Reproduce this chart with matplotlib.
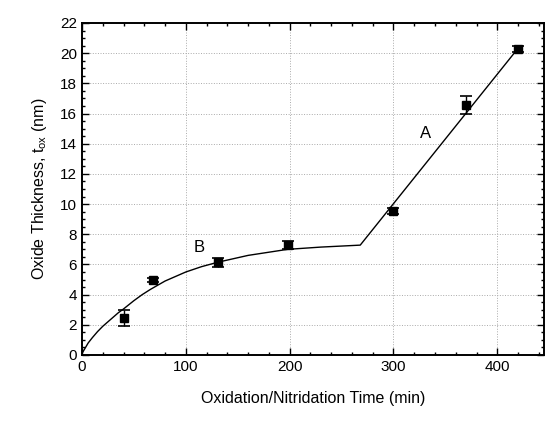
import matplotlib
matplotlib.use('Agg')
import matplotlib.pyplot as plt
from matplotlib.ticker import MultipleLocator

plt.rcParams['font.family'] = ['Liberation Sans', 'DejaVu Sans']
plt.rcParams['mathtext.fontset'] = 'custom'
plt.rcParams['mathtext.rm'] = 'Liberation Sans'

# measured points
time_min = [40, 68, 131, 198, 300, 370, 420]
thickness_nm = [2.45, 4.97, 6.15, 7.3, 9.55, 16.55, 20.3]
thickness_err = [0.5, 0.15, 0.3, 0.25, 0.2, 0.6, 0.2]

# fitted curve (B: parabolic region, A: linear region)
fit_time = [0, 3, 6, 10, 15, 20, 25, 30, 35, 40, 50, 58, 66, 80, 100, 115, 131,
            160, 198, 230, 268, 418]
fit_thick = [0.1, 0.45, 0.8, 1.15, 1.55, 1.9, 2.2, 2.5, 2.8, 3.05, 3.6, 4.0, 4.35,
             4.9, 5.5, 5.85, 6.15, 6.6, 7.0, 7.15, 7.28, 20.15]

fig = plt.figure(figsize=(5.48, 4.22), dpi=100)
ax = fig.add_axes([0.1496, 0.1588, 0.8431, 0.7867])

ax.plot(fit_time, fit_thick, color='black', linewidth=1.0, zorder=3)
ax.errorbar(time_min, thickness_nm, yerr=thickness_err, fmt='s', color='black',
            markersize=6, capsize=4, elinewidth=1.0, capthick=1.2, zorder=4)

ax.text(113, 7.15, 'B', fontsize=12, ha='center', va='center')
ax.text(331, 14.7, 'A', fontsize=12, ha='center', va='center')

ax.set_xlim(0, 445)
ax.set_ylim(0, 22)
ax.xaxis.set_major_locator(MultipleLocator(100))
ax.xaxis.set_minor_locator(MultipleLocator(20))
ax.yaxis.set_major_locator(MultipleLocator(2))
ax.yaxis.set_minor_locator(MultipleLocator(0.5))
ax.tick_params(which='both', direction='in', top=True, right=True, labelsize=11, width=1.0)
ax.tick_params(which='major', length=5)
ax.tick_params(which='minor', length=2.5)
for s in ax.spines.values():
    s.set_linewidth(1.4)

ax.grid(True, which='major', linestyle=':', color='#aaaaaa', linewidth=0.7)

ax.set_xlabel('Oxidation/Nitridation Time (min)', fontsize=11.5, labelpad=12)
ax.set_ylabel('Oxide Thickness, t$_{\\mathregular{ox}}$ (nm)', fontsize=11.5, labelpad=8)

fig.savefig('out.png', dpi=100, facecolor='white')
